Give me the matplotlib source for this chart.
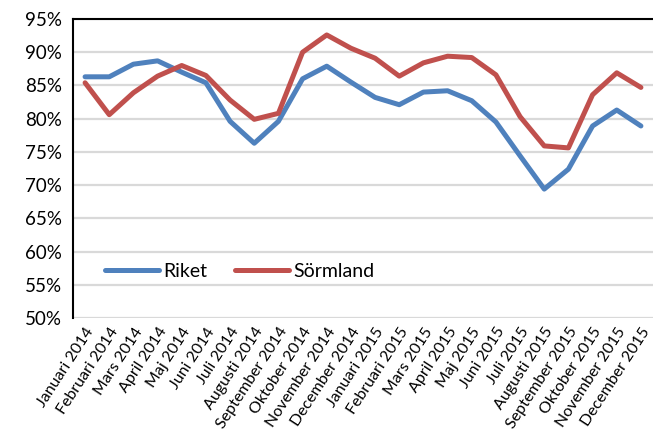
import matplotlib
matplotlib.use("Agg")
import matplotlib.pyplot as plt
from matplotlib.ticker import FuncFormatter

plt.rcParams['font.family'] = ['Lato', 'DejaVu Sans']

months = ["Januari", "Februari", "Mars", "April", "Maj", "Juni", "Juli",
          "Augusti", "September", "Oktober", "November", "December"]
labels = [f"{m} {y}" for y in (2014, 2015) for m in months]

riket = [86.3, 86.3, 88.2, 88.7, 87.0, 85.4, 79.6, 76.3, 79.6, 86.0, 87.9, 85.5,
         83.2, 82.1, 84.0, 84.2, 82.7, 79.5, 74.4, 69.4, 72.4, 78.9, 81.3, 78.9]
sormland = [85.4, 80.6, 83.9, 86.4, 88.0, 86.5, 82.8, 79.9, 80.8, 90.0, 92.6, 90.6,
            89.1, 86.4, 88.4, 89.4, 89.2, 86.6, 80.3, 75.9, 75.6, 83.6, 86.9, 84.7]

fig = plt.figure(figsize=(6.53, 4.48), dpi=100)
ax = fig.add_axes([73/653, 1-318/448, 580/653, 299/448])

x = list(range(len(labels)))
ax.plot(x, riket, color="#4F81BD", lw=3.6, label="Riket", solid_capstyle="round")
ax.plot(x, sormland, color="#C0504D", lw=3.6, label="Sörmland", solid_capstyle="round")

ax.set_xlim(-0.5, len(labels) - 0.5)
ax.set_ylim(50, 95)
ax.set_yticks(range(50, 96, 5))
ax.yaxis.set_major_formatter(FuncFormatter(lambda v, p: f"{int(v)}%"))
ax.set_xticks(x)
ax.set_xticklabels(labels, rotation=57, ha="right", rotation_mode="anchor", fontsize=11.5)
ax.tick_params(axis="y", labelsize=13.5, length=0, pad=8)
ax.tick_params(axis="x", length=0, pad=5)

ax.grid(axis="y", color="#D9D9D9", lw=1.6)
ax.set_axisbelow(True)
for s in ("right", "bottom"):
    ax.spines[s].set_visible(False)
ax.spines["left"].set_color("black")
ax.spines["left"].set_linewidth(1.5)
ax.spines["top"].set_color("black")
ax.spines["top"].set_linewidth(1.5)

ax.legend(loc="center left", bbox_to_anchor=(0.025, 0.155), ncol=2, frameon=False,
          fontsize=14, handlelength=2.8, handletextpad=0.2, columnspacing=1.4)

fig.savefig("out.png", dpi=100)
